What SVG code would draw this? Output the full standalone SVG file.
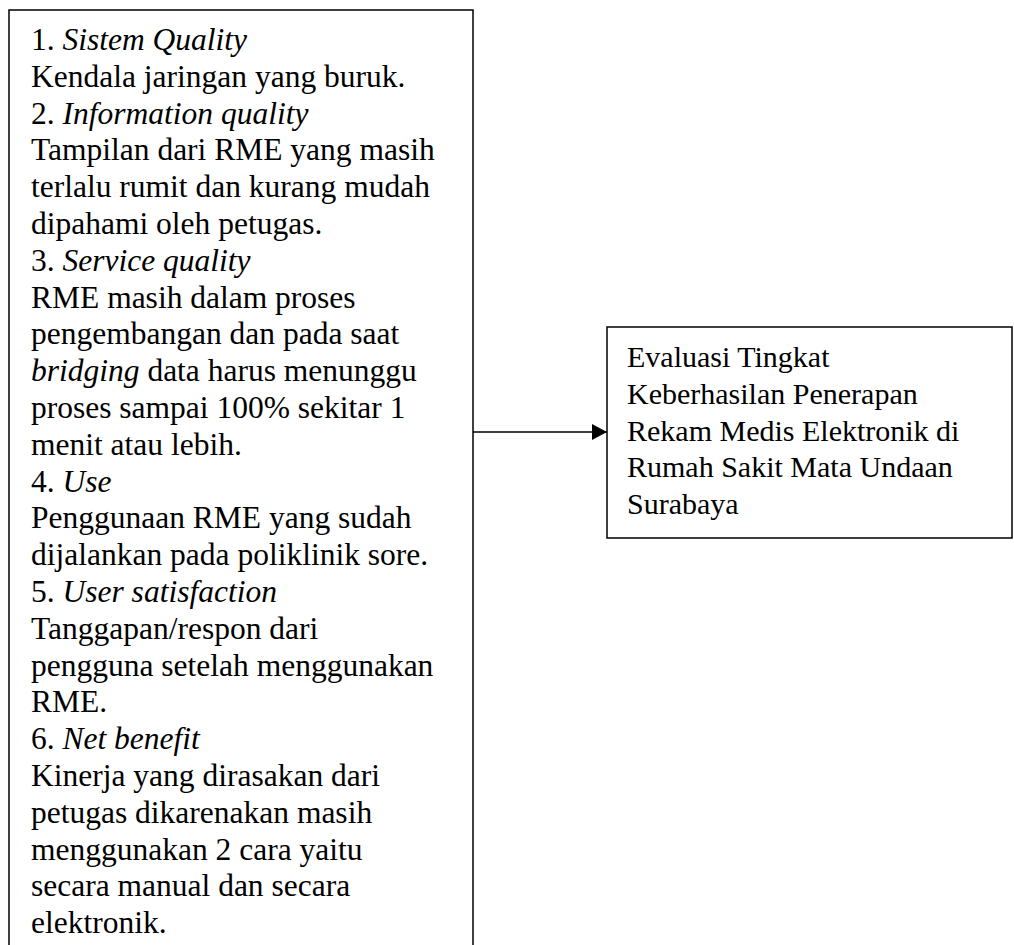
<svg xmlns="http://www.w3.org/2000/svg" width="1014" height="945" viewBox="0 0 1014 945">
<defs>
<style>
.box{fill:#fff;stroke:#000;stroke-width:1.5}
.t{font-family:"Liberation Serif","Times New Roman",serif;fill:#000}
.l{font-size:31.5px}
.r{font-size:30px}
.i{font-style:italic}
.c{stroke:#000;stroke-width:1.5;fill:none}
</style>
<marker id="ah" markerWidth="16" markerHeight="16" refX="15" refY="8" orient="auto" markerUnits="userSpaceOnUse">
<path d="M0,0 L15,8 L0,16 Z" fill="#000"/>
</marker>
</defs>
<rect width="1014" height="945" fill="#fff"/>
<g id="node-left">
<rect class="box" x="9" y="10" width="464" height="960"/>
<text class="t l" x="31">
<tspan x="31" y="50">1. <tspan class="i">Sistem Quality</tspan></tspan>
<tspan x="31" y="86.8">Kendala jaringan yang buruk.</tspan>
<tspan x="31" y="123.6">2. <tspan class="i">Information quality</tspan></tspan>
<tspan x="31" y="160.4">Tampilan dari RME yang masih</tspan>
<tspan x="31" y="197.2">terlalu rumit dan kurang mudah</tspan>
<tspan x="31" y="234">dipahami oleh petugas.</tspan>
<tspan x="31" y="270.8">3. <tspan class="i">Service quality</tspan></tspan>
<tspan x="31" y="307.6">RME masih dalam proses</tspan>
<tspan x="31" y="344.4">pengembangan dan pada saat</tspan>
<tspan x="31" y="381.2"><tspan class="i">bridging</tspan> data harus menunggu</tspan>
<tspan x="31" y="418">proses sampai 100% sekitar 1</tspan>
<tspan x="31" y="454.8">menit atau lebih.</tspan>
<tspan x="31" y="491.6">4. <tspan class="i">Use</tspan></tspan>
<tspan x="31" y="528.4">Penggunaan RME yang sudah</tspan>
<tspan x="31" y="565.2">dijalankan pada poliklinik sore.</tspan>
<tspan x="31" y="602">5. <tspan class="i">User satisfaction</tspan></tspan>
<tspan x="31" y="638.8">Tanggapan/respon dari</tspan>
<tspan x="31" y="675.6">pengguna setelah menggunakan</tspan>
<tspan x="31" y="712.4">RME.</tspan>
<tspan x="31" y="749.2">6. <tspan class="i">Net benefit</tspan></tspan>
<tspan x="31" y="786">Kinerja yang dirasakan dari</tspan>
<tspan x="31" y="822.8">petugas dikarenakan masih</tspan>
<tspan x="31" y="859.6">menggunakan 2 cara yaitu</tspan>
<tspan x="31" y="896.4">secara manual dan secara</tspan>
<tspan x="31" y="933.2">elektronik.</tspan>
</text>
</g>
<g id="node-right">
<rect class="box" x="607" y="327" width="405" height="211"/>
<text class="t r">
<tspan x="627" y="367">Evaluasi Tingkat</tspan>
<tspan x="627" y="403.75">Keberhasilan Penerapan</tspan>
<tspan x="627" y="440.5">Rekam Medis Elektronik di</tspan>
<tspan x="627" y="477.25">Rumah Sakit Mata Undaan</tspan>
<tspan x="627" y="514">Surabaya</tspan>
</text>
</g>
<g id="connectors">
<line class="c" x1="473" y1="432" x2="607" y2="432" marker-end="url(#ah)"/>
</g>
</svg>
